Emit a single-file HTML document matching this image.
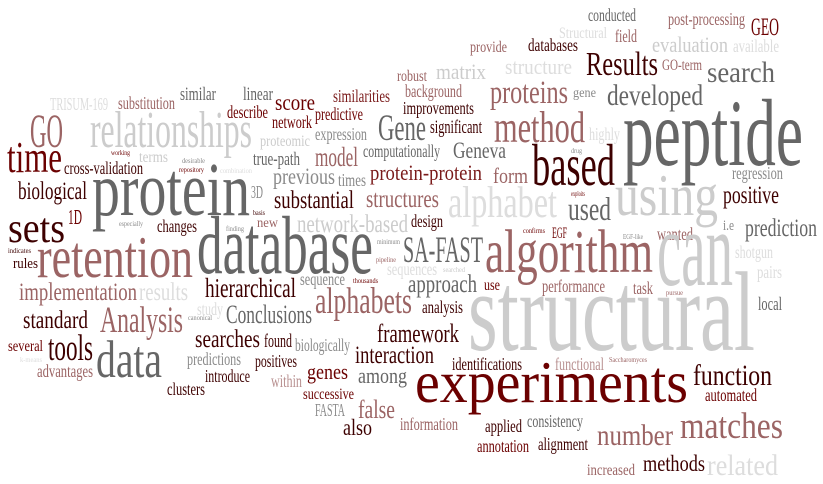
<!DOCTYPE html>
<html><head><meta charset="utf-8">
<style>
html,body{margin:0;padding:0;background:#fff;}
svg{display:block;}
svg text{font-family:"Liberation Serif","Noto Serif CJK SC","DejaVu Serif",serif;}
</style></head>
<body>
<svg id="cloud" width="823" height="484" viewBox="0 0 823 484" xmlns="http://www.w3.org/2000/svg"></svg>
<script>
const colors = {D:"#3d0000",R:"#6b0000",M:"#7a1a1a",P:"#9b6464",L:"#b89090",G:"#666666",g:"#8a8a8a",W:"#cccccc",w:"#dddddd"};
// [word, xLeft, xRight, baseline, ascenderHeight, colorKey]
const words = [
["TRISUM-169",50,108,110,12,"w"],["substitution",118,175,109,12,"P"],["similar",180,216,100,13,"G"],["linear",243,273,100,13,"G"],
["score",275,315,110,16,"R"],["similarities",333,390,102,12,"M"],["robust",397,427,81,11,"P"],["background",405,462,97,12,"P"],
["improvements",403,474,114,12,"D"],["GO",30,63,147,32,"P"],["relationships",90,252,147,35,"W"],["describe",227,268,118,12,"R"],
["network",272,312,128,12,"R"],["predictive",315,363,120,12,"R"],["expression",315,367,140,12,"g"],["Gene",378,426,140,25,"G"],
["proteomic",260,310,146,11,"W"],["time",7,62,172,30,"R"],["working",111,130,155,5,"R"],["terms",139,168,162,11,"W"],
["desirable",182,205,163,4,"g"],["repository",179,204,172,4,"R"],["combination",220,252,173,4,"w"],["cross-validation",64,143,174,12,"D"],
["true-path",253,300,165,13,"G"],["model",315,358,166,19,"P"],["computationally",363,440,157,12,"G"],["protein",92,250,215,52,"G"],
["biological",18,87,199,17,"D"],["3D",251,263,198,12,"g"],["previous",273,335,184,16,"g"],["times",338,366,186,12,"g"],
["protein-protein",370,482,180,15,"M"],["substantial",274,354,208,17,"D"],["structures",366,439,207,17,"P"],["1D",68,82,224,14,"R"],
["sets",8,65,242,29,"D"],["especially",119,143,226,4,"g"],["changes",157,197,232,12,"D"],["finding",226,244,231,4,"g"],
["basis",253,265,215,4,"D"],["new",257,278,227,9,"P"],["network-based",297,408,232,17,"W"],["design",411,443,227,12,"D"],
["minimum",377,400,244,4,"g"],
["conducted",588,636,21,12,"G"],["post-processing",668,745,25,12,"P"],["GEO",751,779,35,17,"R"],["Structural",559,607,38,11,"w"],
["field",615,637,42,12,"P"],["provide",470,507,52,11,"P"],["databases",528,578,51,12,"D"],["evaluation",652,728,52,15,"W"],
["available",733,779,52,12,"w"],["matrix",436,486,79,15,"W"],["structure",505,572,74,15,"w"],["Results",586,658,75,23,"D"],
["GO-term",662,702,70,11,"P"],["search",707,775,82,20,"G"],["proteins",490,568,103,22,"P"],["gene",573,596,97,9,"g"],
["developed",607,703,105,20,"G"],["method",494,585,142,30,"P"],["highly",589,620,140,12,"w"],["peptide",623,803,165,65,"G"],
["significant",430,482,133,13,"D"],["Geneva",453,506,158,16,"G"],["drug",571,582,153,4,"g"],["based",532,615,185,40,"D"],
["form",493,528,183,15,"P"],["regression",732,783,179,12,"g"],["alphabet",448,557,217,30,"w"],["exploits",571,585,196,4,"R"],
["used",568,611,220,22,"G"],["using",615,718,215,40,"W"],["positive",723,779,203,17,"D"],["i.e",723,734,230,10,"g"],
["prediction",745,817,236,17,"G"],["confirms",523,545,233,4,"R"],["EGF",552,567,238,11,"R"],["EGF-like",623,643,239,4,"g"],
["wanted",657,693,240,12,"P"],["SA-FAST",403,483,262,25,"G"],["algorithm",485,653,272,42,"P"],["can",657,733,285,73,"W"],
["shotgun",735,773,258,12,"w"],["pairs",757,782,278,12,"w"],["local",758,782,310,13,"G"],["sequences",387,437,275,12,"w"],
["searched",443,465,272,4,"W"],["approach",408,477,292,17,"G"],["use",484,500,290,11,"R"],["performance",542,605,292,12,"P"],
["task",633,653,294,12,"P"],["pursue",666,683,295,4,"P"],["structural",468,755,350,77,"W"],["alphabets",315,412,313,25,"P"],
["analysis",422,463,313,12,"D"],["framework",377,459,342,18,"D"],["interaction",355,434,363,17,"D"],["identifications",452,522,370,12,"D"],
["functional",555,604,370,12,"L"],["Saccharomyces",609,647,362,4,"P"],["function",693,772,385,20,"D"],["experiments",415,688,402,40,"R"],
["automated",705,757,401,12,"R"],["information",400,458,430,12,"P"],["applied",485,522,432,12,"D"],["consistency",527,583,427,12,"G"],
["matches",680,783,438,25,"P"],["number",597,673,445,20,"P"],["annotation",477,529,452,12,"R"],["alignment",538,588,450,12,"D"],
["increased",587,635,475,11,"P"],["methods",643,705,471,16,"D"],["related",707,778,475,20,"w"],
["indicates",8,31,253,4,"D"],["rules",13,38,268,10,"D"],["retention",37,193,277,40,"P"],["database",197,373,273,56,"G"],
["pipeline",376,396,262,4,"P"],["sequence",300,345,285,12,"g"],["thousands",353,378,283,4,"R"],["hierarchical",205,296,297,19,"D"],
["implementation",19,137,300,17,"P"],["results",139,188,300,17,"w"],["study",197,223,315,12,"w"],["canonical",188,212,320,4,"g"],
["Conclusions",226,312,323,18,"G"],["standard",23,88,328,17,"D"],["Analysis",100,183,332,25,"P"],["several",8,43,351,11,"R"],
["tools",48,93,360,25,"D"],["data",96,162,377,36,"G"],["k-means",20,42,362,4,"w"],["advantages",37,93,377,12,"P"],
["searches",195,260,347,17,"D"],["found",264,292,347,13,"D"],["biologically",295,350,351,12,"g"],["predictions",187,241,365,12,"g"],
["positives",255,297,367,12,"D"],["introduce",205,250,382,12,"D"],["within",271,302,387,12,"L"],["genes",307,348,379,15,"R"],
["among",358,407,383,15,"G"],["clusters",167,205,395,12,"D"],["successive",303,354,399,11,"R"],["FASTA",315,345,416,12,"g"],
["false",358,395,418,18,"P"],["also",343,372,435,16,"D"]
];
const svg = document.getElementById('cloud');
const NS = "http://www.w3.org/2000/svg";
for (const w of words) {
  const t = document.createElementNS(NS, 'text');
  
  
  t.setAttribute('x', w[1]);
  t.setAttribute('y', w[3]);
  t.style.fontFamily = '"Liberation Serif", "Noto Serif CJK SC", "DejaVu Serif", serif';
  t.setAttribute('font-size', Math.max(w[4] / 0.68, 7.5).toFixed(1));
  t.setAttribute('textLength', w[2] - w[1]);
  t.setAttribute('lengthAdjust', 'spacingAndGlyphs');
  t.setAttribute('fill', colors[w[5]]);
  t.textContent = w[0];
  svg.appendChild(t);
}
</script>
</body></html>
